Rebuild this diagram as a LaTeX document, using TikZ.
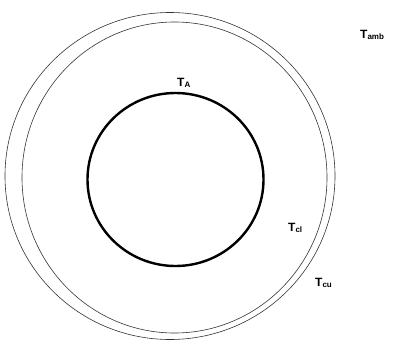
\documentclass[tikz,border=0pt]{standalone}
\usepackage{fontspec}
\setmainfont{Liberation Sans}
\usetikzlibrary{positioning}

\begin{document}
\begin{tikzpicture}[x=1pt, y=-1pt,
    label/.style={anchor=base west, inner sep=0pt, font=\fontsize{12}{14}\selectfont\bfseries}]

      % Fix the page size.
      \useasboundingbox (0,0) rectangle (393,340);
      \clip (0,0) rectangle (393,340);

      % Draw the two thin outer circles.
      \draw[line width=0.6pt, black!80] (170,176) ellipse [x radius=165, y radius=163.5]; % Outer
      \draw[line width=0.6pt, black!80] (174.5,177.5) ellipse [x radius=152.5, y radius=155.5]; % Inner

      % Draw the thick core circle.
      \draw[line width=2.4pt] (175.5,179.5) ellipse [x radius=88, y radius=86.5];

      % Draw the temperature labels.
      \node[label] (ta) at (177,86) {T\textsubscript{A}};
      \node[label] (tcl) at (288,231) {T\textsubscript{cl}};
      \node[label] (tcu) at (315,286) {T\textsubscript{cu}};
      \node[label] (tamb) at (360,38) {T\textsubscript{amb}};
    \end{tikzpicture}
\end{document}
